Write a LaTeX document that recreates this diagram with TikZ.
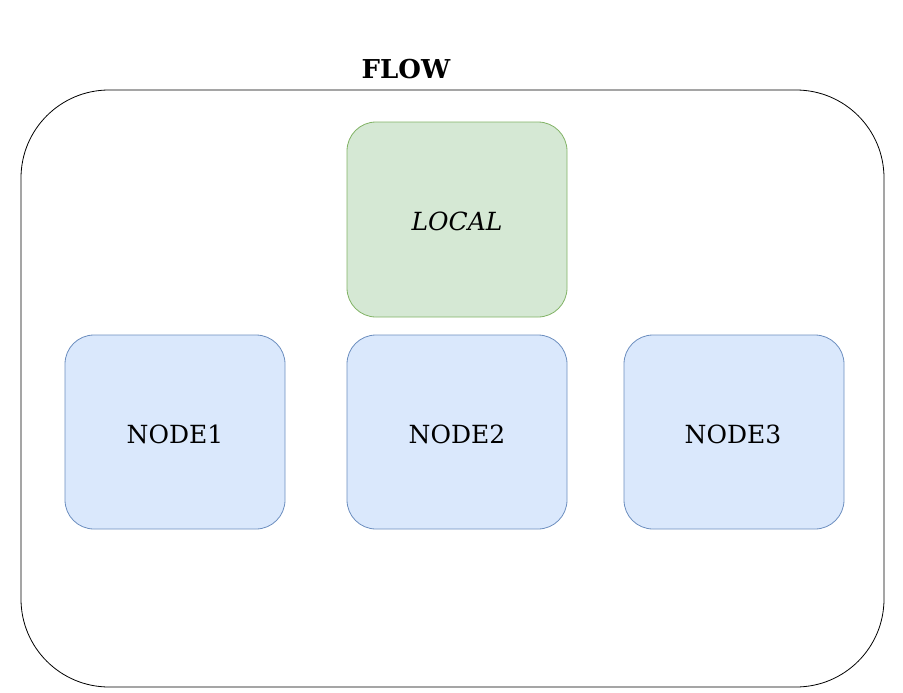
\documentclass[tikz,border=0pt]{standalone}
\usepackage{fontspec}
\setmainfont{DejaVu Serif}
\definecolor{gfill}{HTML}{D5E8D4}
\definecolor{gline}{HTML}{82B366}
\definecolor{bfill}{HTML}{DAE8FC}
\definecolor{bline}{HTML}{6C8EBF}
\begin{document}
\begin{tikzpicture}[x=1pt,y=-1pt,
  nodebox/.style={draw=bline,fill=bfill,line width=0.8pt,rounded corners=29pt,minimum width=220pt,minimum height=194pt,inner sep=0pt,font=\fontsize{25}{30}\selectfont},
  localbox/.style={nodebox,draw=gline,fill=gfill,minimum height=195pt},
  outer/.style={draw=black,line width=0.8pt,rounded corners=88pt}]
\useasboundingbox (0,0) rectangle (903,693);
\node[outer,minimum width=863pt,minimum height=597pt,inner sep=0pt] (flow) at (452.5,388.5) {};
\node[font=\bfseries\fontsize{26}{30}\selectfont] (title) at (406,69) {FLOW};
\node[localbox] (local) at (457,219.5) {};
\node[font=\itshape\fontsize{25}{30}\selectfont] (localtxt) at (457,221) {LOCAL};
\node[nodebox] (n1) at (175,432) {};
\node[nodebox] (n2) at (457,432) {};
\node[nodebox] (n3) at (734,432) {};
\node[font=\fontsize{25}{30}\selectfont] (t1) at (175,434) {NODE1};
\node[font=\fontsize{25}{30}\selectfont] (t2) at (457,434) {NODE2};
\node[font=\fontsize{25}{30}\selectfont] (t3) at (733,434) {NODE3};
\end{tikzpicture}
\end{document}
